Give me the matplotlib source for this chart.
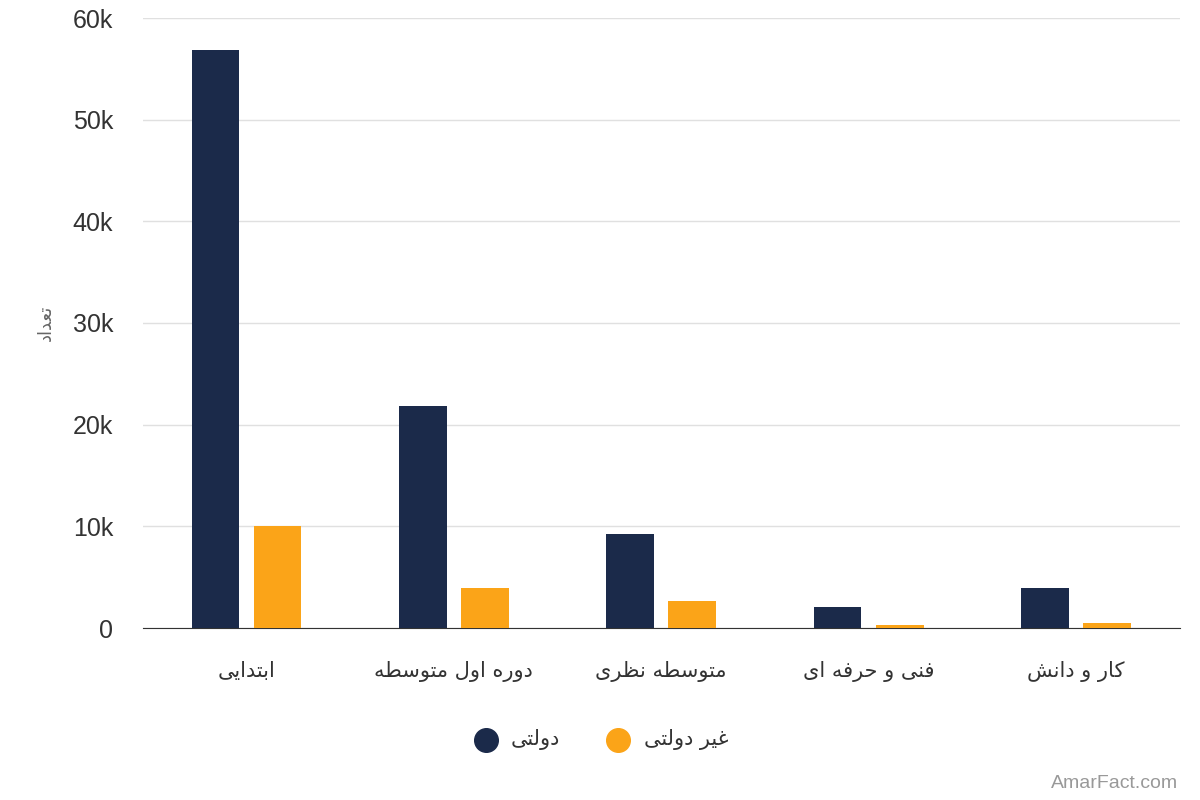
import matplotlib
matplotlib.use("Agg")
import matplotlib.pyplot as plt
import numpy as np

categories = ["ابتدایی", "دوره اول متوسطه", "متوسطه نظری", "فنی و حرفه ای", "کار و دانش"]
gov = [56900, 21800, 9200, 2100, 3900]
nongov = [10000, 3900, 2700, 300, 500]
series_names = ["دولتی", "غیر دولتی"]
y_label = "تعداد"
ticks = [0, 10000, 20000, 30000, 40000, 50000, 60000]
tick_labels = ["0", "10k", "20k", "30k", "40k", "50k", "60k"]

# presentation forms: isolated, final, initial, medial (right-joining letters have 2)
FORMS = {
    "ا": (0xFE8D, 0xFE8E), "ب": (0xFE8F, 0xFE90, 0xFE91, 0xFE92),
    "ت": (0xFE95, 0xFE96, 0xFE97, 0xFE98), "د": (0xFEA9, 0xFEAA),
    "ی": (0xFBFC, 0xFBFD, 0xFBFE, 0xFBFF), "و": (0xFEED, 0xFEEE),
    "ر": (0xFEAD, 0xFEAE), "ه": (0xFEE9, 0xFEEA, 0xFEEB, 0xFEEC),
    "ل": (0xFEDD, 0xFEDE, 0xFEDF, 0xFEE0), "م": (0xFEE1, 0xFEE2, 0xFEE3, 0xFEE4),
    "س": (0xFEB1, 0xFEB2, 0xFEB3, 0xFEB4), "ط": (0xFEC1, 0xFEC2, 0xFEC3, 0xFEC4),
    "ن": (0xFEE5, 0xFEE6, 0xFEE7, 0xFEE8), "ظ": (0xFEC5, 0xFEC6, 0xFEC7, 0xFEC8),
    "ف": (0xFED1, 0xFED2, 0xFED3, 0xFED4), "ح": (0xFEA1, 0xFEA2, 0xFEA3, 0xFEA4),
    "ک": (0xFB8E, 0xFB8F, 0xFB90, 0xFB91), "ش": (0xFEB5, 0xFEB6, 0xFEB7, 0xFEB8),
    "ع": (0xFEC9, 0xFECA, 0xFECB, 0xFECC), "غ": (0xFECD, 0xFECE, 0xFECF, 0xFED0),
}


def fa(s):
    out = []
    for i, c in enumerate(s):
        if c not in FORMS:
            out.append(c)
            continue
        prev = s[i - 1] if i > 0 else ""
        nxt = s[i + 1] if i + 1 < len(s) else ""
        join_prev = prev in FORMS and len(FORMS[prev]) == 4
        join_next = nxt in FORMS and len(FORMS[c]) == 4
        f = FORMS[c]
        if join_prev and join_next:
            out.append(chr(f[3]))
        elif join_prev:
            out.append(chr(f[1]))
        elif join_next:
            out.append(chr(f[2]))
        else:
            out.append(chr(f[0]))
    return "".join(out)[::-1]


plt.rcParams["font.family"] = ["Liberation Sans", "DejaVu Sans"]
fig = plt.figure(figsize=(12, 8), dpi=100)
ax = fig.add_axes([0.119, 0.215, 0.864, 0.7625])

x = np.arange(len(categories))
ax.bar(x - 0.15, gov, 0.23, color="#1b2a4a", zorder=3)
ax.bar(x + 0.15, nongov, 0.23, color="#fba418", zorder=3)

ax.set_xlim(-0.5, len(categories) - 0.5)
ax.set_ylim(0, 60000)
ax.set_yticks(ticks)
ax.set_yticklabels(tick_labels, fontsize=18, color="#333333")
ax.set_xticks(x)
ax.set_xticklabels([fa(c) for c in categories], fontsize=15, color="#333333",
                   family=["DejaVu Sans"])
ax.tick_params(axis="y", length=0, pad=30)
ax.tick_params(axis="x", length=0, pad=24)
ax.grid(axis="y", color="#e0e0e0", linewidth=1, zorder=0)
for sp in ["top", "right", "left"]:
    ax.spines[sp].set_visible(False)
ax.spines["bottom"].set_color("#333333")
ax.set_ylabel(fa(y_label), fontsize=13, color="#666666", labelpad=22, family=["DejaVu Sans"])

fig.text(0.446, 0.075, fa(series_names[0]), fontsize=15, color="#333333", ha="center",
         va="center", family=["DejaVu Sans"])
fig.text(0.572, 0.075, fa(series_names[1]), fontsize=15, color="#333333", ha="center",
         va="center", family=["DejaVu Sans"])
fig.add_artist(plt.Line2D([0.405], [0.075], marker="o", markersize=17, color="#1b2a4a",
                          transform=fig.transFigure, linestyle="none"))
fig.add_artist(plt.Line2D([0.515], [0.075], marker="o", markersize=17, color="#fba418",
                          transform=fig.transFigure, linestyle="none"))
fig.text(0.982, 0.01, "AmarFact.com", fontsize=14, color="#999999", ha="right", va="bottom")

# nudge the tick labels right so they end near x=112 like the reference
from matplotlib.transforms import ScaledTranslation
for lbl in ax.get_yticklabels():
    lbl.set_transform(lbl.get_transform() + ScaledTranslation(0.12, 0, fig.dpi_scale_trans))
ax.yaxis.label.set_transform(ax.yaxis.label.get_transform())
ax.yaxis.set_label_coords(-0.085, 0.5)

fig.savefig("out.png")
